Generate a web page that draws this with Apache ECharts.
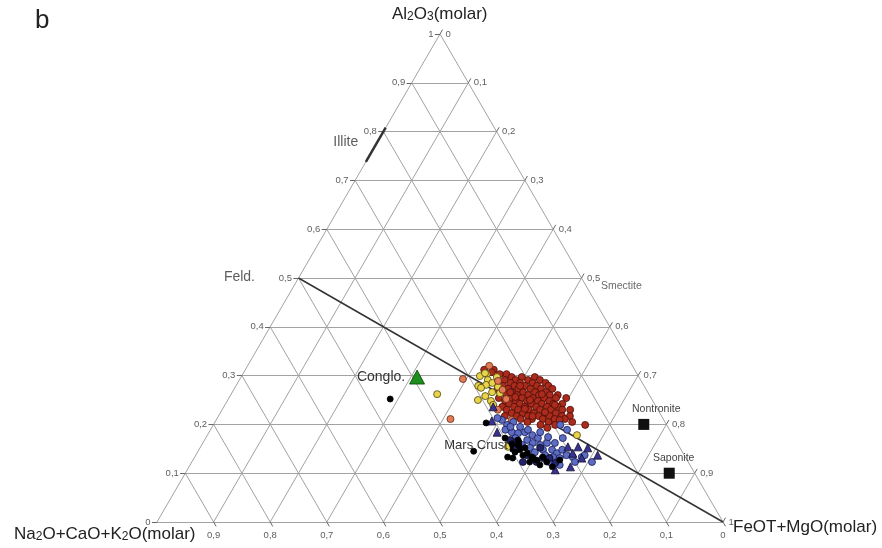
<!DOCTYPE html>
<html><head><meta charset="utf-8">
<script src="https://cdn.jsdelivr.net/npm/echarts@6/dist/echarts.min.js"></script>
<style>html,body{margin:0;padding:0;background:#fff}#c{width:882px;height:548px}</style>
</head><body><div id="c"></div>
<script>
// ternary compositions: [Al2O3, FeOT+MgO]  (Na2O+CaO+K2O = 1 - both)
const gridVals = [0.1,0.2,0.3,0.4,0.5,0.6,0.7,0.8,0.9];
const tickVals = [0,0.1,0.2,0.3,0.4,0.5,0.6,0.7,0.8,0.9,1];
const tickText = ['0','0,1','0,2','0,3','0,4','0,5','0,6','0,7','0,8','0,9','1'];
const bottomVals = [0,0.1,0.2,0.3,0.4,0.5,0.6,0.7,0.8,0.9];

const redPts = [[0.312,0.422],[0.312,0.439],[0.303,0.454],[0.303,0.466],[0.297,0.478],[0.297,0.496],[0.297,0.519],
[0.291,0.469],[0.291,0.488],[0.291,0.510],[0.291,0.531],[0.285,0.460],[0.285,0.482],[0.285,0.499],[0.285,0.521],[0.285,0.544],
[0.279,0.472],[0.279,0.492],[0.279,0.511],[0.279,0.532],[0.279,0.552],[0.273,0.465],[0.273,0.484],[0.273,0.502],[0.273,0.523],[0.273,0.542],[0.273,0.562],
[0.266,0.477],[0.266,0.494],[0.266,0.514],[0.266,0.535],[0.266,0.554],[0.260,0.487],[0.260,0.506],[0.260,0.526],[0.260,0.545],[0.260,0.564],[0.260,0.578],
[0.254,0.477],[0.254,0.498],[0.254,0.518],[0.254,0.537],[0.254,0.557],[0.254,0.578],[0.254,0.596],[0.248,0.491],[0.248,0.510],[0.248,0.530],[0.248,0.549],[0.248,0.569],
[0.242,0.501],[0.242,0.520],[0.242,0.540],[0.242,0.559],[0.242,0.579],[0.242,0.595],[0.236,0.492],[0.236,0.513],[0.236,0.532],[0.236,0.552],[0.236,0.571],[0.236,0.590],
[0.230,0.503],[0.230,0.523],[0.230,0.542],[0.230,0.562],[0.230,0.581],[0.230,0.601],[0.230,0.615],[0.223,0.515],[0.223,0.535],[0.223,0.554],[0.223,0.574],[0.223,0.593],
[0.217,0.506],[0.217,0.527],[0.217,0.547],[0.217,0.566],[0.217,0.585],[0.217,0.607],[0.217,0.621],[0.211,0.537],[0.211,0.557],[0.211,0.576],[0.211,0.597],[0.211,0.615],
[0.205,0.552],[0.205,0.589],[0.205,0.631],[0.199,0.578],[0.199,0.604],[0.199,0.657],[0.193,0.593],
[0.307,0.438],[0.256,0.505],[0.250,0.534],[0.225,0.573],[0.232,0.534],[0.279,0.502],[0.262,0.549],[0.266,0.491],[0.240,0.583],[0.217,0.555],[0.209,0.607]];
const yellowPts = [[0.262,0.364],[0.299,0.421],[0.303,0.431],[0.291,0.439],[0.297,0.452],[0.279,0.428],[0.281,0.441],[0.285,0.450],[0.250,0.442],[0.248,0.466],
[0.258,0.451],[0.266,0.459],[0.277,0.464],[0.264,0.474],[0.240,0.474],[0.178,0.653],[0.154,0.543],[0.305,0.427],[0.275,0.435]];
const orangePts = [[0.320,0.427],[0.293,0.394],[0.211,0.413],[0.289,0.458],[0.271,0.475],[0.252,0.491],[0.230,0.487],[0.209,0.522]];
const bluePts = [[0.209,0.505],[0.199,0.519],[0.205,0.527],[0.195,0.544],[0.184,0.535],[0.182,0.547],[0.184,0.558],[0.178,0.574],[0.172,0.587],[0.168,0.570],
[0.162,0.583],[0.158,0.598],[0.162,0.608],[0.148,0.608],[0.148,0.624],[0.141,0.636],[0.148,0.642],[0.137,0.655],[0.133,0.668],[0.133,0.684],[0.123,0.707],
[0.131,0.646],[0.133,0.633],[0.133,0.622],[0.172,0.631],[0.189,0.630],[0.199,0.613],[0.189,0.521],[0.172,0.547],[0.158,0.566],[0.152,0.583],[0.143,0.596],
[0.137,0.617],[0.123,0.632],[0.117,0.653],[0.137,0.687],[0.189,0.561],[0.184,0.585],[0.174,0.604],[0.162,0.622],[0.195,0.527],[0.213,0.495],[0.123,0.677]];
const navyPts = [[0.164,0.547],[0.152,0.560],[0.137,0.585],[0.123,0.609],[0.131,0.598],[0.131,0.616],[0.123,0.585],[0.131,0.628],[0.121,0.643],[0.168,0.540],[0.152,0.601]];
const triPts = [[0.236,0.476],[0.207,0.488],[0.184,0.509],[0.154,0.649],[0.154,0.667],[0.141,0.664],[0.131,0.685],[0.113,0.674],[0.137,0.710],[0.152,0.685],[0.107,0.650]];
const blackPts = [[0.252,0.286],[0.203,0.480],[0.145,0.487],[0.133,0.553],[0.131,0.563],[0.158,0.559],[0.148,0.567],[0.152,0.574],[0.141,0.584],[0.133,0.596],
[0.127,0.607],[0.133,0.615],[0.123,0.627],[0.127,0.648],[0.168,0.554],[0.172,0.529],[0.143,0.561],[0.137,0.578],[0.117,0.618],[0.123,0.597],[0.160,0.547],[0.113,0.642]];
const refNames = ['Nontronite','Saponite'];
const refPts = [[0.20,0.760],[0.10,0.855]];
const refLabelOffsets = [[18,-10],[10,-10]];
const marsCrust = [0.156,0.556];
const conglo = [0.297,0.311];
const feldLine = [[0.5,0],[0,1]];
const illiteLine = [[0.738,0],[0.808,0]];
const smectiteAnchor = [0.5,0.5];

const FONT = 'Liberation Sans, Arial, Helvetica, sans-serif';
const C = p => [p[1] + p[0] / 2, p[0]];
const seg = (a, b) => ({ coords: [C(a), C(b)] });

const gridSegs = [];
gridVals.forEach(v => {
  gridSegs.push(seg([v, 0], [v, 1 - v]));
  gridSegs.push(seg([0, v], [1 - v, v]));
  gridSegs.push(seg([0, 1 - v], [1 - v, 0]));
});
gridSegs.push(seg([1, 0], [0, 0]), seg([0, 0], [0, 1]), seg([0, 1], [1, 0]));

const tickSegs = [];
tickVals.forEach(v => {
  const l = C([v, 0]); tickSegs.push({ coords: [l, [l[0] - 0.009, l[1]]] });
  const r = C([1 - v, v]); tickSegs.push({ coords: [r, [r[0] + 0.0045, r[1] + 0.009]] });
});
bottomVals.forEach(v => {
  const b = C([0, 1 - v]); tickSegs.push({ coords: [b, [b[0] + 0.0045, b[1] - 0.009]] });
});

function pts(name, arr, color, border, symbol, size, z) {
  return { type: 'scatter', name, z, symbol, symbolSize: size, data: arr.map(C),
    itemStyle: { color, borderColor: border, borderWidth: 0.8, opacity: 1 }, emphasis: { disabled: true } };
}
function labelSeries(values, texts, pos, dist) {
  return { type: 'scatter', z: 3, symbolSize: 1, itemStyle: { color: 'rgba(0,0,0,0)' },
    data: values.map((p, i) => ({ value: p, label: { formatter: texts[i] } })),
    label: { show: true, position: pos, distance: dist, fontFamily: FONT, fontSize: 9.5, color: '#333' }, silent: true };
}

const chart = echarts.init(document.getElementById('c'), null, { renderer: 'canvas' });
chart.setOption({
  animation: false,
  backgroundColor: '#fff',
  grid: { left: 157, top: 34, width: 566, height: 488 },
  xAxis: { type: 'value', min: 0, max: 1, show: false },
  yAxis: { type: 'value', min: 0, max: 1, show: false },
  graphic: [
    { type: 'text', left: 35, top: 8, style: { text: 'b', font: '26px ' + FONT, fill: '#222' } },
    { type: 'text', left: 392, top: 6, style: { text: '{a|Al}{s|2}{a|O}{s|3}{a|(molar)}', fill: '#222',
      rich: { a: { fontSize: 17, fontFamily: FONT, fill: '#222', verticalAlign: 'bottom', lineHeight: 20 }, s: { fontSize: 12, fontFamily: FONT, fill: '#222', verticalAlign: 'bottom', lineHeight: 20 } } } },
    { type: 'text', left: 14, top: 526, style: { text: '{a|Na}{s|2}{a|O+CaO+K}{s|2}{a|O(molar)}', fill: '#222',
      rich: { a: { fontSize: 17, fontFamily: FONT, fill: '#222', verticalAlign: 'bottom', lineHeight: 20 }, s: { fontSize: 12, fontFamily: FONT, fill: '#222', verticalAlign: 'bottom', lineHeight: 20 } } } },
    { type: 'text', left: 733, top: 519, style: { text: 'FeOT+MgO(molar)', font: '17px ' + FONT, fill: '#222' } }
  ],
  series: [
    { type: 'lines', coordinateSystem: 'cartesian2d', z: 1, clip: false, silent: true, data: gridSegs,
      lineStyle: { color: '#a2a2a2', width: 1, opacity: 1 } },
    { type: 'lines', coordinateSystem: 'cartesian2d', z: 1, clip: false, silent: true, data: tickSegs,
      lineStyle: { color: '#666', width: 1, opacity: 1 } },
    { type: 'lines', coordinateSystem: 'cartesian2d', z: 2, silent: true, data: [seg(feldLine[0], feldLine[1])],
      lineStyle: { color: '#333', width: 1.5, opacity: 1 } },
    { type: 'lines', coordinateSystem: 'cartesian2d', z: 2, silent: true, data: [seg(illiteLine[0], illiteLine[1])],
      lineStyle: { color: '#333', width: 2.5, opacity: 1 } },
    labelSeries(tickVals.map(v => C([v, 0])), tickText, 'left', 6),
    labelSeries(tickVals.map(v => C([1 - v, v])), tickText, 'right', 5),
    labelSeries(bottomVals.map(v => C([0, 1 - v])), bottomVals.map(v => tickText[Math.round(v * 10)]), 'bottom', 8),
    { type: 'scatter', z: 3, symbolSize: 1, itemStyle: { color: 'rgba(0,0,0,0)' }, silent: true,
      label: { show: true, fontFamily: FONT, color: '#333' },
      data: [
        { value: C(feldLine[0]), label: { formatter: 'Feld.', fontSize: 14, position: [-43, 0], align: 'right', verticalAlign: 'middle' } },
        { value: C(illiteLine[1]), label: { formatter: 'Illite', fontSize: 14, position: [-27, 15], align: 'right', verticalAlign: 'middle' } },
        { value: C(smectiteAnchor), label: { formatter: 'Smectite', fontSize: 10.5, color: '#444', position: [20, 9], align: 'left', verticalAlign: 'middle' } }
      ] },
    pts('red', redPts, '#ab2c1c', '#4a0c08', 'circle', 7, 4),
    pts('yellow', yellowPts, '#e8d44a', '#4a4010', 'circle', 7, 5),
    pts('orange', orangePts, '#e27a56', '#5a2a10', 'circle', 7, 5),
    pts('blue', bluePts, '#5b6ec4', '#1a1a50', 'circle', 7, 5),
    pts('navy', navyPts, '#24246c', '#0a0a20', 'circle', 7, 6),
    pts('tri', triPts, '#3a3290', '#101030', 'triangle', 8, 6),
    { type: 'scatter', z: 5, symbol: 'rect', symbolSize: 12, data: [C(marsCrust)], itemStyle: { color: '#000', opacity: 1 },
      label: { show: true, formatter: 'Mars Crust', position: [-2, 6], align: 'right', verticalAlign: 'middle', fontFamily: FONT, fontSize: 13, color: '#333' } },
    pts('black', blackPts, '#000', '#000', 'circle', 6, 7),
    { type: 'scatter', z: 6, symbol: 'triangle', symbolSize: [15, 14], data: [C(conglo)],
      itemStyle: { color: '#1c8f1c', borderColor: '#0a400a', borderWidth: 0.8, opacity: 1 },
      label: { show: true, formatter: 'Conglo.', position: [-4, 7], align: 'right', verticalAlign: 'middle', fontFamily: FONT, fontSize: 14, color: '#333' } },
    { type: 'scatter', z: 6, symbol: 'rect', symbolSize: 11, itemStyle: { color: '#111', opacity: 1 },
      data: refPts.map((p, i) => ({ value: C(p), name: refNames[i], label: { position: refLabelOffsets[i] } })),
      label: { show: true, formatter: p => p.name, fontFamily: FONT, fontSize: 10.5, color: '#444', align: 'center', verticalAlign: 'middle' },
      emphasis: { disabled: true } }
  ]
});
</script></body></html>
